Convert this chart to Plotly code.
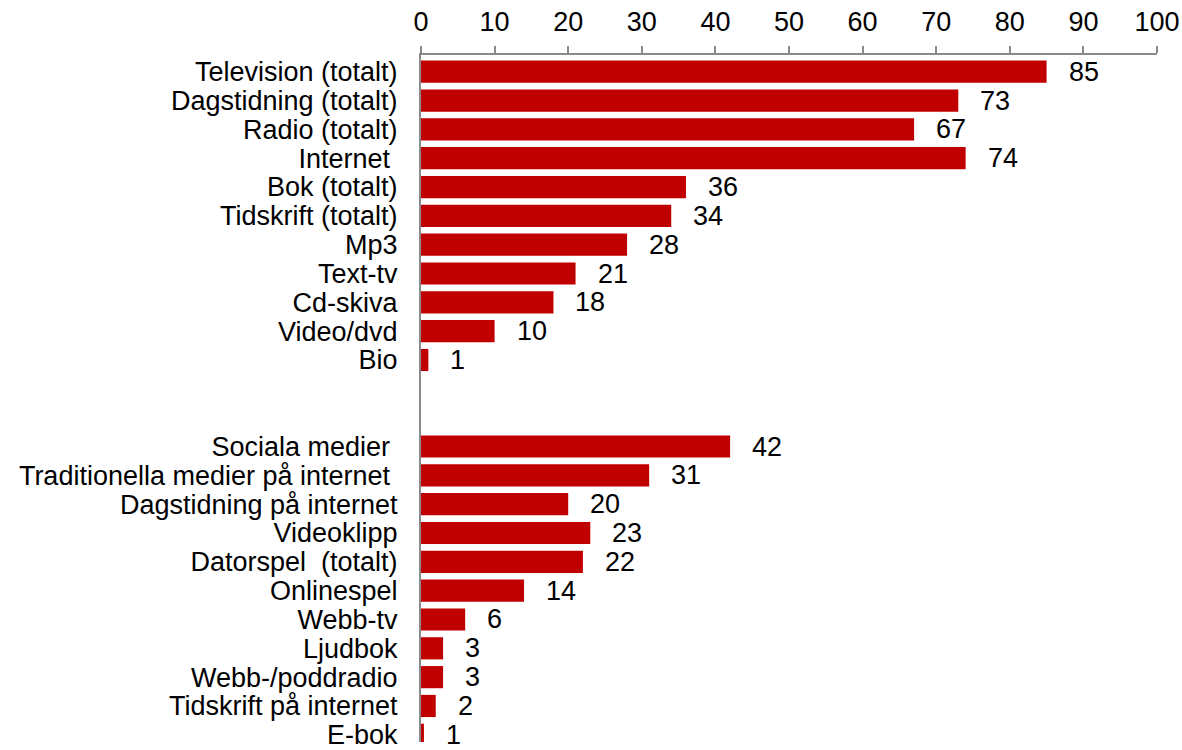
import plotly.graph_objects as go

# Group 1: traditional media
cats_1 = ["Television (totalt)", "Dagstidning (totalt)", "Radio (totalt)", "Internet\u00a0",
          "Bok (totalt)", "Tidskrift (totalt)", "Mp3", "Text-tv", "Cd-skiva", "Video/dvd", "Bio"]
vals_1 = [85, 73, 67, 74, 36, 34, 28, 21, 18, 10, 1]

# Group 2: internet media
cats_2 = ["Sociala medier\u00a0", "Traditionella medier på internet\u00a0", "Dagstidning på internet",
          "Videoklipp", "Datorspel\u00a0 (totalt)", "Onlinespel", "Webb-tv", "Ljudbok",
          "Webb-/poddradio", "Tidskrift på internet", "E-bok"]
vals_2 = [42, 31, 20, 23, 22, 14, 6, 3, 3, 2, 0.4]
labels_2 = ["42", "31", "20", "23", "22", "14", "6", "3", "3", "2", "1"]
labels_1 = [str(v) for v in vals_1]

gap = 2
cats = cats_1 + cats_2
vals = vals_1 + vals_2
labels = labels_1 + labels_2
ypos = list(range(len(cats_1))) + [len(cats_1) + gap + i for i in range(len(cats_2))]

color = "#c00000"
font = "Liberation Sans, Arial, sans-serif"
fs = 27

fig = go.Figure()
fig.add_trace(go.Bar(
    x=vals, y=ypos, orientation="h", width=0.77,
    marker=dict(color=color, line=dict(width=0)),
    hoverinfo="skip",
))

for y, v, t in zip(ypos, vals, labels):
    fig.add_annotation(x=v, y=y, text=t, showarrow=False, xanchor="left",
                       xshift=20, font=dict(size=fs, color="black", family=font))

fig.update_layout(
    width=1182, height=750,
    margin=dict(l=421, r=25, t=55, b=0),
    paper_bgcolor="white", plot_bgcolor="white",
    showlegend=False,
    font=dict(family=font, size=fs, color="black"),
    xaxis=dict(
        side="top", range=[0, 100], tickvals=list(range(0, 101, 10)),
        showgrid=False, zeroline=False,
        showline=True, linecolor="#8a8a8a", linewidth=2,
        ticks="outside", ticklen=7, tickwidth=2, tickcolor="#8a8a8a",
        tickfont=dict(size=fs, color="black", family=font),
        ticklabelstandoff=4, ticklabeloverflow="allow",
    ),
    yaxis=dict(
        range=[23.25, -0.58], tickvals=ypos, ticktext=cats,
        showgrid=False, zeroline=False,
        showline=True, linecolor="#8a8a8a", linewidth=2,
        ticks="", tickfont=dict(size=fs, color="black", family=font),
        ticklabelstandoff=16, ticklabeloverflow="allow",
    ),
)

fig.write_html("out.html", config={"displayModeBar": False, "staticPlot": True},
               post_script="document.body.style.margin='0';document.body.style.overflow='hidden';")
